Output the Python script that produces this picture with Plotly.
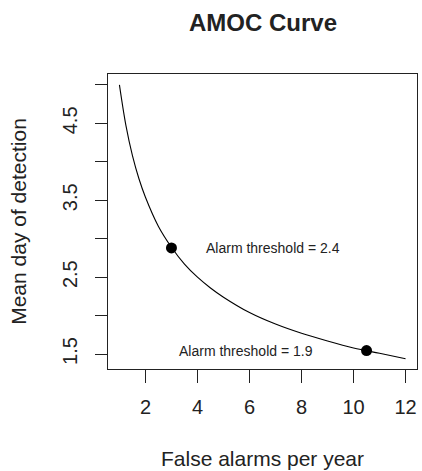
import plotly.graph_objects as go

# Curve readings (false alarms per year vs mean day of detection)
false_alarms = [1, 1.25, 1.5, 1.75, 2, 2.5, 3, 3.5, 4, 4.5, 5, 6, 7, 8, 9, 10, 11, 12]
mean_day = [5.00, 4.47, 4.08, 3.78, 3.54, 3.16, 2.89, 2.67, 2.50, 2.36, 2.24,
            2.04, 1.89, 1.77, 1.67, 1.58, 1.51, 1.44]

# Highlighted thresholds
point_x = [3.0, 10.5]
point_y = [2.88, 1.545]
label_x = [6.92, 5.88]
label_y = [2.88, 1.545]
label_text = ["Alarm threshold = 2.4", "Alarm threshold = 1.9"]

x_ticks = [2, 4, 6, 8, 10, 12]
y_ticks = [1.5, 2.0, 2.5, 3.0, 3.5, 4.0, 4.5, 5.0]
y_ticktext = ["1.5", "", "2.5", "", "3.5", "", "4.5", ""]

FONT = "Liberation Sans, Arial, Helvetica, sans-serif"

fig = go.Figure()
fig.add_trace(go.Scatter(x=false_alarms, y=mean_day, mode="lines",
                         line=dict(color="black", width=1.1, shape="spline"),
                         showlegend=False, hoverinfo="skip"))
fig.add_trace(go.Scatter(x=point_x, y=point_y, mode="markers",
                         marker=dict(color="black", size=11),
                         showlegend=False))
for lx, ly, t in zip(label_x, label_y, label_text):
    fig.add_annotation(x=lx, y=ly, text=t, showarrow=False,
                       font=dict(size=14, color="#222222", family=FONT),
                       xanchor="center", yanchor="middle")

W, H = 422, 471
fig.update_layout(
    width=W, height=H,
    margin=dict(l=108, r=5, t=74, b=102, autoexpand=False),
    paper_bgcolor="white", plot_bgcolor="white",
    font=dict(family=FONT, color="#222222", size=20),
    title=dict(text="<b>AMOC Curve</b>", x=263 / W, xanchor="center",
               y=1 - 23 / H, yanchor="middle",
               font=dict(size=24, color="#222222", family=FONT)),
)
fig.update_xaxes(
    range=[0.56, 12.44], tickmode="array", tickvals=x_ticks,
    ticks="outside", ticklen=13, tickwidth=1, tickcolor="#222222",
    showline=True, linecolor="#222222", linewidth=1.2, mirror=True,
    showgrid=False, zeroline=False, automargin=False,
    tickfont=dict(size=20), ticklabelstandoff=7,
    title=dict(text="False alarms per year", font=dict(size=21), standoff=34),
)
fig.update_yaxes(
    range=[1.306, 5.142], tickmode="array", tickvals=y_ticks, ticktext=y_ticktext,
    ticks="outside", ticklen=12, tickwidth=1, tickcolor="#222222",
    showline=True, linecolor="#222222", linewidth=1.2, mirror=True,
    showgrid=False, zeroline=False, tickangle=-90, automargin=False,
    tickfont=dict(size=20), ticklabelstandoff=10,
    title=dict(text="Mean day of detection", font=dict(size=21), standoff=26),
)

fig.write_html(
    "out.html",
    config={"displayModeBar": False},
    post_script="document.body.style.margin='0';"
                "document.documentElement.style.overflow='hidden';",
)
